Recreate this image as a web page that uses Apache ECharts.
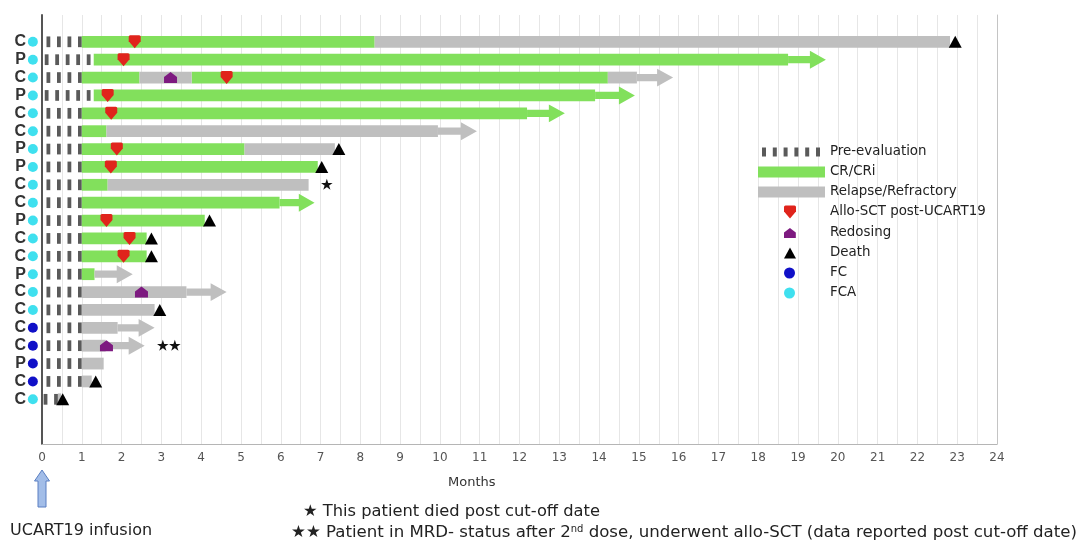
<!DOCTYPE html>
<html><head><meta charset="utf-8">
<script src="https://cdn.jsdelivr.net/npm/echarts@6/dist/echarts.min.js"></script>
<style>html,body{margin:0;padding:0;background:#fff}#c{width:1084px;height:544px}</style>
</head><body><div id="c"></div>
<script>
// ---- data ----
const rowLabels = ['C','P','C','P','C','C','P','P','C','C','P','C','C','P','C','C','C','C','P','C','C'];
const conditioning = ['FCA','FCA','FCA','FCA','FCA','FCA','FCA','FCA','FCA','FCA','FCA','FCA','FCA','FCA','FCA','FCA','FC','FC','FC','FC','FCA'];
const preEvalEnd = [1,1.22,1,1.22,1,1,1,1,1,1,1,1,1,1,1,1,1,1,1,1,0.4];
const crSegments = [[1,1,8.36],[2,1.3,18.75],[3,1,2.45],[3,3.76,14.22],[4,1.3,13.9],[5,1,12.19],[6,1,1.62],[7,1,5.09],[8,1,6.93],[9,1,1.65],[10,1,5.97],[11,1,4.09],[12,1,2.63],[13,1,2.63],[14,1,1.32]];
const relapseSegments = [[1,8.36,22.82],[3,2.45,3.76],[3,14.22,14.95],[6,1.62,9.95],[7,5.09,7.36],[9,1.65,6.7],[15,1,3.63],[16,1,2.83],[17,1,1.9],[18,1,1.6],[19,1,1.55],[20,1,1.25],[21,0.4,0.48]];
const crArrows = [[2,18.75,19.7],[4,13.9,14.9],[5,12.19,13.14],[10,5.97,6.85]];
const relapseArrows = [[3,14.95,15.86],[6,9.95,10.93],[14,1.32,2.28],[15,3.63,4.64],[17,1.9,2.83],[18,1.6,2.58]];
const alloSCT = [[2.33,1],[2.05,2],[4.64,3],[1.65,4],[1.74,5],[1.88,7],[1.73,8],[1.62,11],[2.2,12],[2.05,13]];
const redosing = [[3.23,3],[2.5,15],[1.62,18]];
const death = [[22.95,1],[7.46,7],[7.03,8],[4.21,11],[2.75,12],[2.75,13],[2.96,16],[1.35,20],[0.52,21]];
const noteMarks = [[7.15,9,'★'],[3.2,18,'★★']];
const condX = -0.23;

// ---- build ----
const FONT = 'Liberation Sans, Arial, sans-serif';
const FONT2 = 'DejaVu Sans, sans-serif';
const yCats = [''].concat(rowLabels, ['', '']);
const preData = preEvalEnd.map((e, i) => [i + 1, 0, e]);
const crData = crSegments.map(d => d.concat(0)).concat(crArrows.map(d => d.concat(1)));
const relData = relapseSegments.map(d => d.concat(0)).concat(relapseArrows.map(d => d.concat(1)));
const fcData = [], fcaData = [];
conditioning.forEach((c, i) => (c === 'FC' ? fcData : fcaData).push([condX, i + 1]));

const ALLO = 'path://M1.5,0 L10.5,0 Q12,0 12,1.5 L12,6 L6,13 L0,6 L0,1.5 Q0,0 1.5,0 Z';
const REDO = 'path://M0,11 L0,5 L6.5,0 L13,5 L13,11 Z';
const PRE_ICON = 'path://M0,0h4v9h-4z M10.8,0h4v9h-4z M21.6,0h4v9h-4z M32.4,0h4v9h-4z M43.2,0h4v9h-4z M54,0h4v9h-4z';

function renderSeg(params, api) {
  const row = api.value(0), s = api.value(1), e = api.value(2), kind = api.value(3);
  const a = api.coord([s, row]), b = api.coord([e, row]);
  const band = api.size([0, 1])[1];
  const color = api.visual('color');
  if (kind === 0) {
    const h = band * 0.66;
    return {type: 'rect', shape: {x: a[0], y: a[1] - h / 2, width: b[0] - a[0], height: h}, style: {fill: color}};
  }
  const sh = band * 0.4, hh = band * 1.0, hl = Math.min(16, (b[0] - a[0]) * 0.45);
  const y = a[1], xe = b[0], xh = xe - hl;
  return {type: 'polygon', shape: {points: [[a[0], y - sh / 2], [xh, y - sh / 2], [xh, y - hh / 2], [xe, y], [xh, y + hh / 2], [xh, y + sh / 2], [a[0], y + sh / 2]]}, style: {fill: color}};
}
function renderPre(params, api) {
  const row = api.value(0), s = api.value(1), e = api.value(2);
  const a = api.coord([s, row]), b = api.coord([e, row]);
  const h = api.size([0, 1])[1] * 0.6;
  const children = [];
  for (let x = b[0]; x - 3.8 >= a[0] + 1; x -= 10.5) {
    children.push({type: 'rect', shape: {x: x - 3.8, y: a[1] - h / 2, width: 3.8, height: h}, style: {fill: api.visual('color')}});
  }
  return {type: 'group', children};
}
function renderNote(params, api) {
  const p = api.coord([api.value(0), api.value(1)]);
  return {type: 'text', x: p[0], y: p[1] + 1, style: {text: noteMarks[params.dataIndex][2], fill: '#111', font: 'bold 13px ' + FONT, textAlign: 'center', textVerticalAlign: 'middle'}};
}

const chart = echarts.init(document.getElementById('c'));
const txt = {color: '#222', fontSize: 13.4, fontFamily: FONT2, lineHeight: 14};
function lg(name, left, cy, w, h, icon, pad) {
  return {show: true, data: [{name, icon}], left, top: cy - 7, padding: 0, itemWidth: w, itemHeight: h,
    selectedMode: false, textStyle: Object.assign({padding: [0, 0, 0, pad]}, txt)};
}
const option = {
  animation: false,
  grid: {left: 42, right: 87, top: 15, bottom: 100},
  xAxis: {type: 'value', min: 0, max: 24, interval: 1,
    axisLine: {lineStyle: {color: '#b5b5b5'}}, axisTick: {show: false},
    axisLabel: {color: '#555', fontSize: 12, margin: 8, fontFamily: FONT2},
    splitLine: {show: true, lineStyle: {color: '#e6e6e6'}},
    minorTick: {show: false, splitNumber: 2},
    minorSplitLine: {show: true, lineStyle: {color: '#e6e6e6'}}},
  yAxis: [
    {type: 'category', data: yCats, inverse: true,
      axisLine: {show: true, lineStyle: {color: '#555', width: 2}}, axisTick: {show: false},
      axisLabel: {color: '#333', fontSize: 16, fontWeight: 'bold', margin: 16, fontFamily: FONT, interval: 0},
      splitLine: {show: false}},
    {type: 'value', position: 'right', min: 0, max: 1,
      axisLine: {show: true, lineStyle: {color: '#c4c4c4'}}, axisLabel: {show: false}, axisTick: {show: false}, splitLine: {show: false}}
  ],
  legend: [
    lg('Pre-evaluation', 762, 152, 58, 9, PRE_ICON, 5),
    lg('CR/CRi', 758, 172, 67, 11, 'rect', 0),
    lg('Relapse/Refractory', 758, 192, 67, 11, 'rect', 0),
    lg('Allo-SCT post-UCART19', 784, 212, 12, 13, ALLO, 29),
    lg('Redosing', 784, 233, 12, 10, REDO, 29),
    lg('Death', 784, 253, 12, 11, 'triangle', 29),
    lg('FC', 784, 273, 11, 11, 'circle', 30),
    lg('FCA', 784, 293, 11, 11, 'circle', 30)
  ],
  series: [
    {name: 'Pre-evaluation', type: 'custom', renderItem: renderPre, data: preData, encode: {x: [1, 2], y: 0}, itemStyle: {color: '#5a5a5a'}, z: 2},
    {name: 'CR/CRi', type: 'custom', renderItem: renderSeg, data: crData, encode: {x: [1, 2], y: 0}, itemStyle: {color: '#82e05c'}, z: 2},
    {name: 'Relapse/Refractory', type: 'custom', renderItem: renderSeg, data: relData, encode: {x: [1, 2], y: 0}, itemStyle: {color: '#bfbfbf'}, z: 2},
    {name: 'Allo-SCT post-UCART19', type: 'scatter', symbol: ALLO, symbolSize: [12, 13], data: alloSCT, itemStyle: {color: '#e0241c', opacity: 1}, z: 5},
    {name: 'Redosing', type: 'scatter', symbol: REDO, symbolSize: [13, 11], data: redosing, itemStyle: {color: '#7d1a80', opacity: 1}, z: 5},
    {name: 'Death', type: 'scatter', symbol: 'triangle', symbolSize: [13, 12], data: death, itemStyle: {color: '#000', opacity: 1}, z: 5},
    {name: 'FC', type: 'scatter', symbol: 'circle', symbolSize: 10, data: fcData, clip: false, itemStyle: {color: '#1010c8', opacity: 1}, z: 5},
    {name: 'FCA', type: 'scatter', symbol: 'circle', symbolSize: 10, data: fcaData, clip: false, itemStyle: {color: '#3fe0ef', opacity: 1}, z: 5},
    {name: 'notes', type: 'custom', renderItem: renderNote, data: noteMarks.map(d => [d[0], d[1]]), encode: {x: 0, y: 1}, z: 5}
  ]
};
chart.setOption(option);
const x0 = chart.convertToPixel({xAxisIndex: 0}, 0);
const xm = chart.convertToPixel({xAxisIndex: 0}, 10.8);
chart.setOption({graphic: [
  {type: 'polygon', shape: {points: [[x0, 470], [x0 + 7.5, 481], [x0 + 4, 481], [x0 + 4, 507], [x0 - 4, 507], [x0 - 4, 481], [x0 - 7.5, 481]]},
    style: {fill: '#a2bde8', stroke: '#5a7fc2', lineWidth: 1}},
  {type: 'text', x: xm, y: 483, style: {text: 'Months', fill: '#333', font: '13px ' + FONT2, textAlign: 'center', textVerticalAlign: 'middle'}},
  {type: 'text', x: 10, y: 531, style: {text: 'UCART19 infusion', fill: '#222', font: '16px ' + FONT2, textVerticalAlign: 'middle'}},
  {type: 'text', x: 303, y: 512, style: {text: '★ This patient died post cut-off date', fill: '#222', font: '16.3px ' + FONT2, textVerticalAlign: 'middle'}},
  {type: 'text', x: 291, y: 533, style: {text: '★★ Patient in MRD- status after 2{sup|nd} dose, underwent allo-SCT (data reported post cut-off date)', fill: '#222', font: '16.6px ' + FONT2, textVerticalAlign: 'middle',
    rich: {sup: {fontSize: 10, fontFamily: FONT2, fill: '#222', padding: [0, 0, 7, 0]}}}}
]});
</script></body></html>
